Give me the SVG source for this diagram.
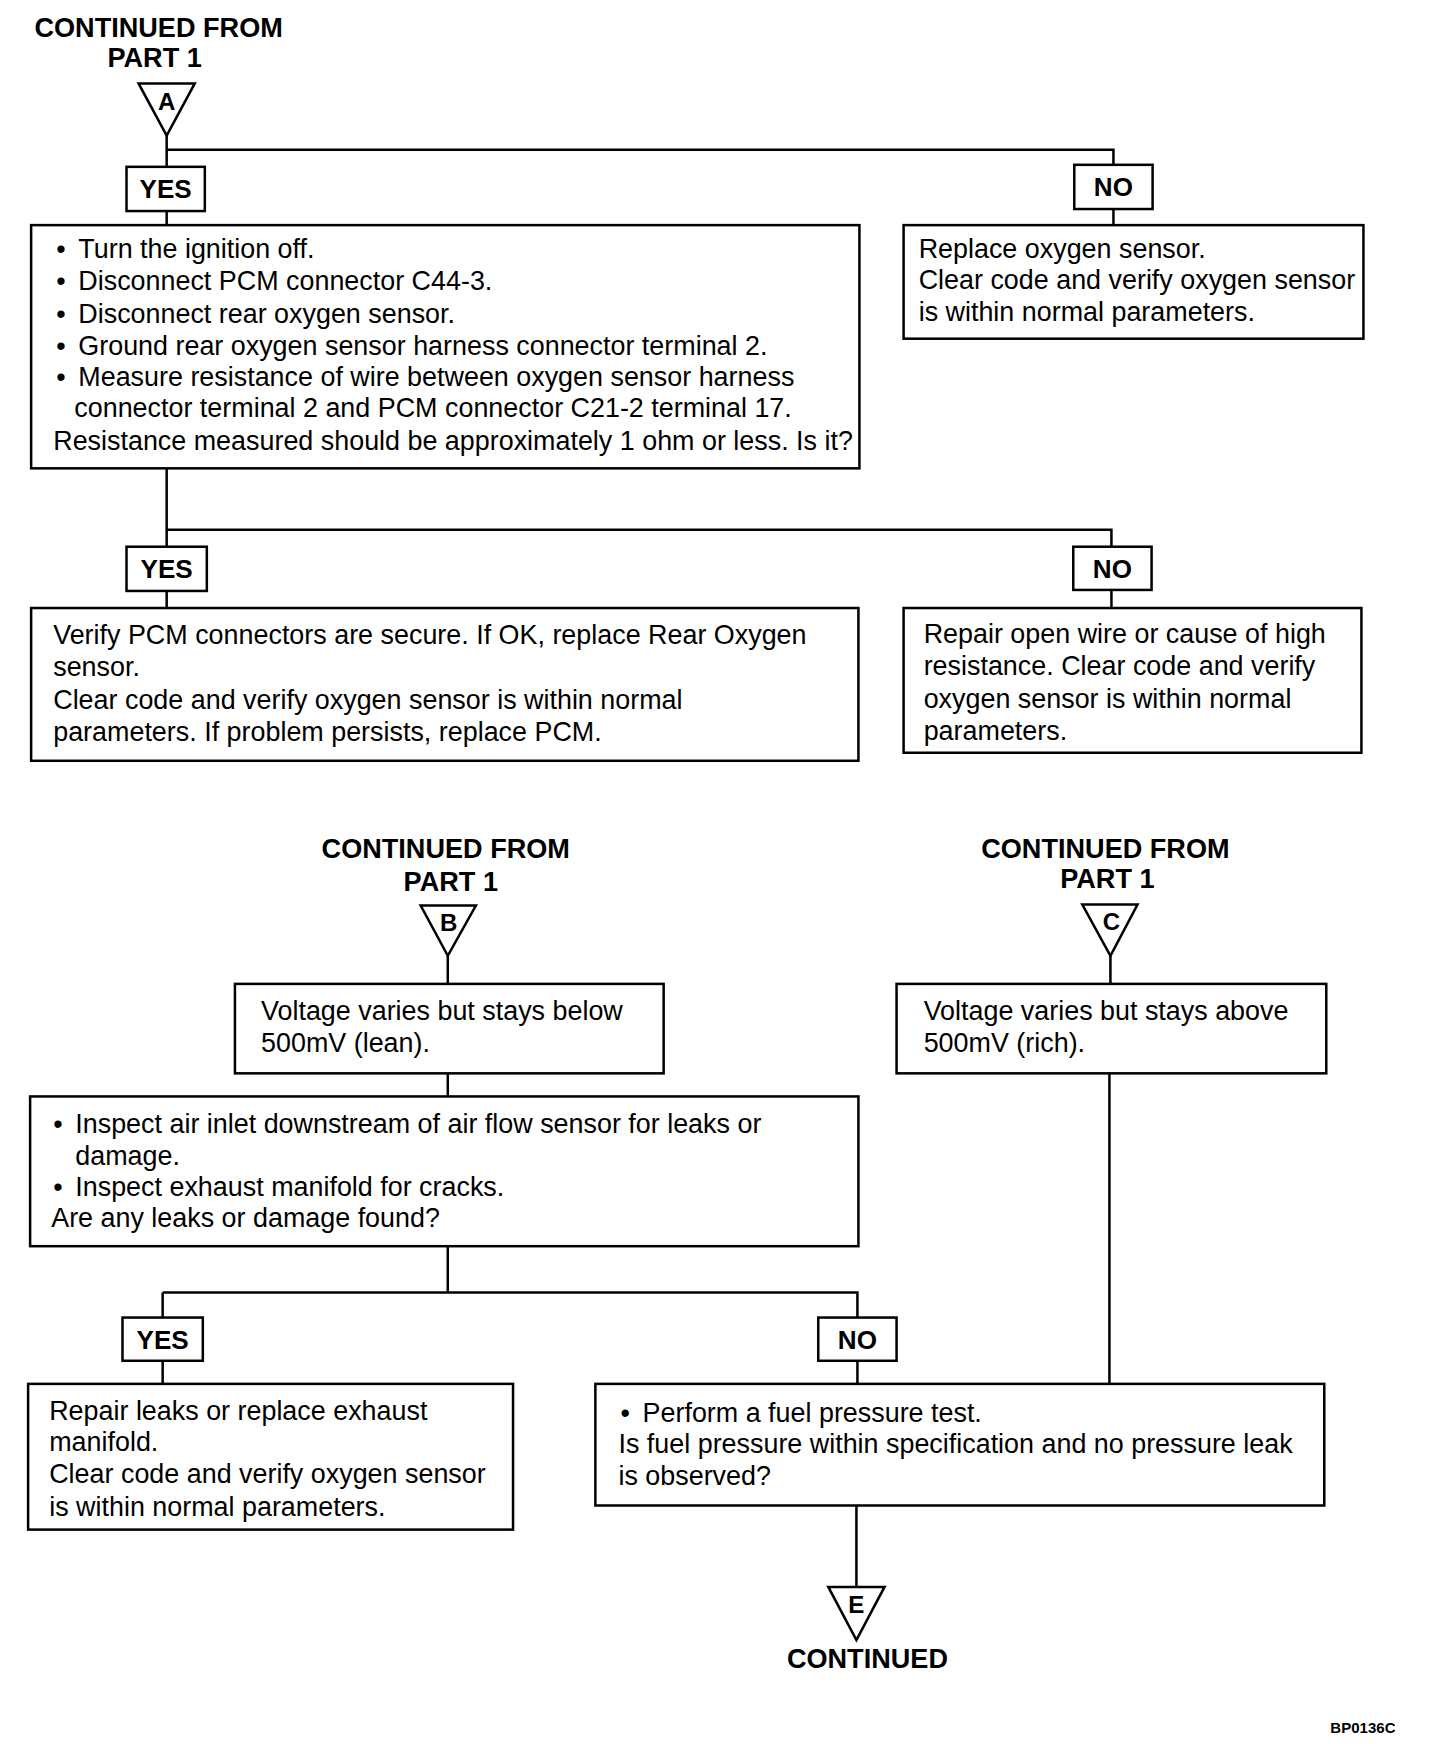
<svg xmlns="http://www.w3.org/2000/svg" width="1440" height="1744" viewBox="0 0 1440 1744">
<style>
.box{fill:#fff;stroke:#000;stroke-width:2.5}
.lbl{fill:#fff;stroke:#000;stroke-width:2.5}
.tri{fill:#fff;stroke:#000;stroke-width:2.5;stroke-linejoin:miter}
.t{font-family:"Liberation Sans",Arial,sans-serif;font-size:26.8px;fill:#000}
.h{font-family:"Liberation Sans",Arial,sans-serif;font-size:27px;font-weight:bold;fill:#000;text-anchor:middle}
.yn{font-family:"Liberation Sans",Arial,sans-serif;font-size:26px;font-weight:bold;fill:#000;text-anchor:middle}
.tl{font-family:"Liberation Sans",Arial,sans-serif;font-size:24px;font-weight:bold;fill:#000;text-anchor:middle}
.code{font-family:"Liberation Sans",Arial,sans-serif;font-size:15px;font-weight:bold;fill:#000}
.c{fill:none;stroke:#000;stroke-width:2.5}
</style>
<rect width="1440" height="1744" fill="#fff"/>
<g transform="scale(1.004 1.005)">
<g id="connectors">
<path class="c" d="M166 135 V166"/>
<path class="c" d="M166 149 H1109 V164"/>
<path class="c" d="M166 210 V224"/>
<path class="c" d="M1109 208 V224"/>
<path class="c" d="M166 466 V544"/>
<path class="c" d="M166 527 H1107 V544"/>
<path class="c" d="M166 588 V605"/>
<path class="c" d="M1107 587 V605"/>
<path class="c" d="M446 951 V979"/>
<path class="c" d="M1106 951 V979"/>
<path class="c" d="M446 1068 V1091"/>
<path class="c" d="M446 1240 V1286"/>
<path class="c" d="M162 1286 H854 V1311"/>
<path class="c" d="M162 1286 V1311"/>
<path class="c" d="M162 1354 V1377"/>
<path class="c" d="M854 1354 V1377"/>
<path class="c" d="M1105 1068 V1377"/>
<path class="c" d="M853 1498 V1579"/>
</g>

<g id="startA">
<text class="h" x="158" y="37">CONTINUED FROM</text>
<text class="h" x="154" y="67">PART 1</text>
<polygon class="tri" points="138,83 194,83 166,135"/>
<text class="tl" x="166" y="109">A</text>
</g>

<g id="yes1">
<rect class="lbl" x="126" y="166" width="78" height="44"/>
<text class="yn" x="165" y="197">YES</text>
</g>
<g id="no1">
<rect class="lbl" x="1070" y="164" width="78" height="44"/>
<text class="yn" x="1109" y="195">NO</text>
</g>

<g id="step1">
<rect class="box" x="31" y="224" width="825" height="242"/>
<text class="t" x="56" y="257">•</text><text class="t" x="78" y="257">Turn the ignition off.</text>
<text class="t" x="56" y="289">•</text><text class="t" x="78" y="289">Disconnect PCM connector C44-3.</text>
<text class="t" x="56" y="321">•</text><text class="t" x="78" y="321">Disconnect rear oxygen sensor.</text>
<text class="t" x="56" y="353">•</text><text class="t" x="78" y="353">Ground rear oxygen sensor harness connector terminal 2.</text>
<text class="t" x="56" y="384">•</text><text class="t" x="78" y="384">Measure resistance of wire between oxygen sensor harness</text>
<text class="t" x="74" y="415">connector terminal 2 and PCM connector C21-2 terminal 17.</text>
<text class="t" x="53" y="448">Resistance measured should be approximately 1 ohm or less. Is it?</text>
</g>

<g id="replaceO2">
<rect class="box" x="900" y="224" width="458" height="113"/>
<text class="t" x="915" y="257">Replace oxygen sensor.</text>
<text class="t" x="915" y="288">Clear code and verify oxygen sensor</text>
<text class="t" x="915" y="319">is within normal parameters.</text>
</g>

<g id="yes2">
<rect class="lbl" x="126" y="544" width="80" height="44"/>
<text class="yn" x="166" y="575">YES</text>
</g>
<g id="no2">
<rect class="lbl" x="1069" y="544" width="78" height="43"/>
<text class="yn" x="1108" y="575">NO</text>
</g>

<g id="verifyPCM">
<rect class="box" x="31" y="605" width="824" height="152"/>
<text class="t" x="53" y="641">Verify PCM connectors are secure. If OK, replace Rear Oxygen</text>
<text class="t" x="53" y="673">sensor.</text>
<text class="t" x="53" y="705">Clear code and verify oxygen sensor is within normal</text>
<text class="t" x="53" y="737">parameters. If problem persists, replace PCM.</text>
</g>

<g id="repairWire">
<rect class="box" x="900" y="605" width="456" height="144"/>
<text class="t" x="920" y="640">Repair open wire or cause of high</text>
<text class="t" x="920" y="672">resistance. Clear code and verify</text>
<text class="t" x="920" y="704">oxygen sensor is within normal</text>
<text class="t" x="920" y="736">parameters.</text>
</g>

<g id="startB">
<text class="h" x="444" y="854">CONTINUED FROM</text>
<text class="h" x="449" y="887">PART 1</text>
<polygon class="tri" points="419,901 474,901 446,951"/>
<text class="tl" x="447" y="926">B</text>
</g>

<g id="startC">
<text class="h" x="1101" y="854">CONTINUED FROM</text>
<text class="h" x="1103" y="884">PART 1</text>
<polygon class="tri" points="1078,900 1133,900 1106,951"/>
<text class="tl" x="1107" y="925">C</text>
</g>

<g id="lean">
<rect class="box" x="234" y="979" width="427" height="89"/>
<text class="t" x="260" y="1015">Voltage varies but stays below</text>
<text class="t" x="260" y="1047">500mV (lean).</text>
</g>

<g id="rich">
<rect class="box" x="893" y="979" width="428" height="89"/>
<text class="t" x="920" y="1015">Voltage varies but stays above</text>
<text class="t" x="920" y="1047">500mV (rich).</text>
</g>

<g id="inspect">
<rect class="box" x="30" y="1091" width="825" height="149"/>
<text class="t" x="53" y="1127">•</text><text class="t" x="75" y="1127">Inspect air inlet downstream of air flow sensor for leaks or</text>
<text class="t" x="75" y="1159">damage.</text>
<text class="t" x="53" y="1190">•</text><text class="t" x="75" y="1190">Inspect exhaust manifold for cracks.</text>
<text class="t" x="51" y="1221">Are any leaks or damage found?</text>
</g>

<g id="yes3">
<rect class="lbl" x="122" y="1311" width="80" height="43"/>
<text class="yn" x="162" y="1342">YES</text>
</g>
<g id="no3">
<rect class="lbl" x="815" y="1311" width="78" height="43"/>
<text class="yn" x="854" y="1342">NO</text>
</g>

<g id="repairLeaks">
<rect class="box" x="28" y="1377" width="483" height="145"/>
<text class="t" x="49" y="1413">Repair leaks or replace exhaust</text>
<text class="t" x="49" y="1444">manifold.</text>
<text class="t" x="49" y="1476">Clear code and verify oxygen sensor</text>
<text class="t" x="49" y="1508">is within normal parameters.</text>
</g>

<g id="fuelTest">
<rect class="box" x="593" y="1377" width="726" height="121"/>
<text class="t" x="618" y="1415">•</text><text class="t" x="640" y="1415">Perform a fuel pressure test.</text>
<text class="t" x="616" y="1446">Is fuel pressure within specification and no pressure leak</text>
<text class="t" x="616" y="1478">is observed?</text>
</g>

<g id="endE">
<polygon class="tri" points="825,1579 881,1579 853,1632"/>
<text class="tl" x="853" y="1605">E</text>
<text class="h" x="864" y="1660">CONTINUED</text>
</g>

<text class="code" x="1325" y="1724">BP0136C</text>
</g>
</svg>
